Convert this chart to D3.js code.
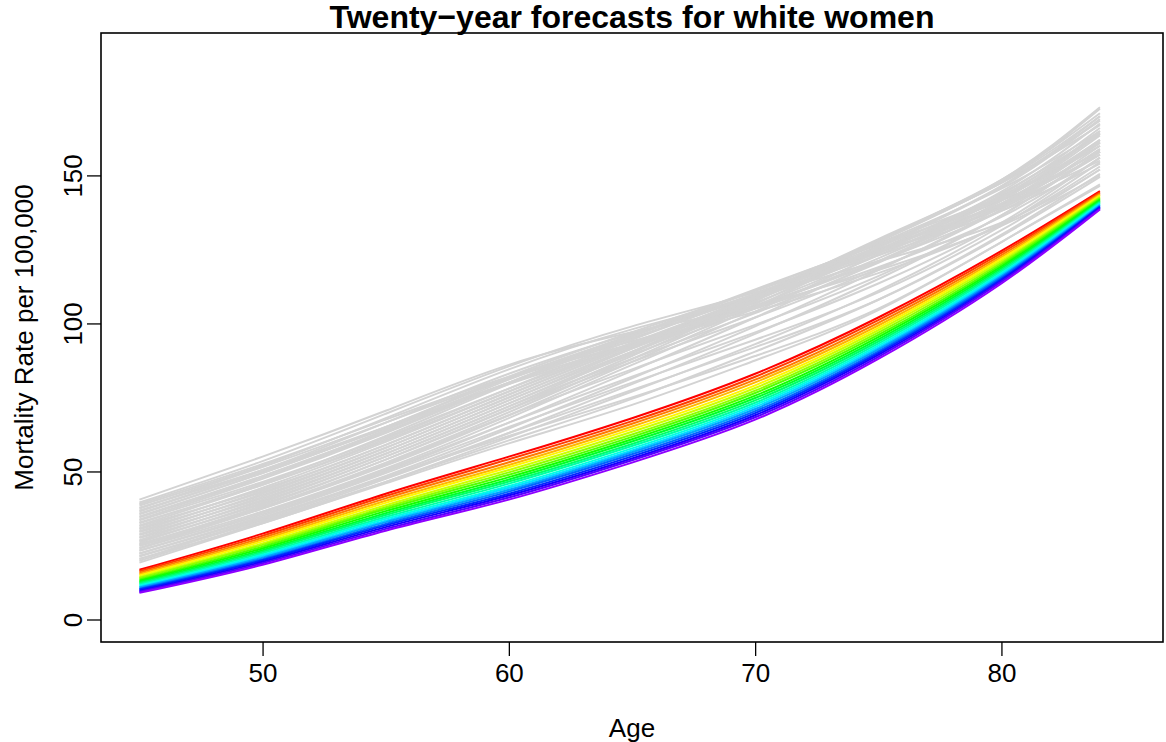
<!DOCTYPE html>
<html>
<head>
<meta charset="utf-8">
<script src="https://cdn.jsdelivr.net/npm/d3@7"></script>
<style>
  html, body { margin: 0; padding: 0; background: #fff; }
  svg { display: block; font-family: "Liberation Sans", Arial, Helvetica, sans-serif; }
</style>
</head>
<body>
<svg id="chart" width="1166" height="742"></svg>
<script>
// ---------------- DATA ----------------
const titleText = "Twenty\u2212year forecasts for white women";
const xLabel = "Age";
const yLabel = "Mortality Rate per 100,000";
const ages = [45, 50, 55, 60, 65, 70, 75, 80, 84];
const xTicks = [50, 60, 70, 80];
const yTicks = [0, 50, 100, 150];

// observed (historical) curves, earliest year first; values at `ages`
const historical = [
  [40.5, 55, 70.5, 86, 97, 106, 118, 133, 150],
  [38.5, 52, 68, 84.5, 98, 109, 121, 134, 152],
  [39.5, 53.5, 69.5, 85.5, 99, 110.5, 124, 139, 157],
  [37.5, 51.5, 66.5, 81.5, 93, 104, 117, 133.5, 153],
  [39, 52.5, 67.5, 82, 94, 106, 121, 138, 158],
  [36.5, 50.5, 66.5, 83, 96.5, 109, 123, 138, 154],
  [37.8, 50.5, 65, 80, 93, 105, 119, 136, 156],
  [35.5, 49.5, 65, 81.5, 96, 110, 125, 140.5, 157],
  [36.8, 50, 64.5, 79.5, 92.5, 105.5, 121, 140, 161],
  [34.5, 48, 63.5, 80, 95, 109.5, 124, 139.5, 159],
  [35.8, 49.5, 65, 82, 97, 111, 125, 140, 155],
  [33.5, 46.5, 61.5, 78, 93, 108, 125, 144, 164],
  [34.8, 48.5, 64, 81, 96, 110, 124, 140.5, 158.5],
  [32.8, 45.5, 60.5, 77, 93, 109.5, 127, 145.5, 165],
  [33.8, 47.5, 63, 80, 96, 111.5, 126.5, 141.5, 158],
  [31.5, 44, 59, 76, 92.5, 109.5, 128, 147.5, 167],
  [32.5, 46, 62, 79.5, 95.5, 111, 127, 143, 161],
  [30.5, 43, 58, 75, 92, 109.5, 128, 147.5, 168.5],
  [31.8, 45.5, 61, 78, 94.5, 110, 126, 142.5, 160],
  [29.5, 42, 57, 74, 91.5, 109, 128.5, 148, 170],
  [30.8, 44.5, 60, 77, 93.5, 109, 125, 142, 162],
  [28.5, 41, 56, 73, 90.5, 108.5, 128, 148.5, 171],
  [29.8, 43.5, 59, 76, 92.5, 108, 124.5, 143, 164],
  [27.5, 40, 55, 72, 90, 108, 127.5, 148, 172.5],
  [28.8, 42.5, 58, 75, 91.5, 107, 124, 143.5, 166],
  [26.5, 39, 54, 71, 89, 107.5, 127.5, 148.5, 173],
  [27.8, 41.5, 57, 74, 90.5, 106, 123, 142.5, 165],
  [25.5, 38, 53, 70, 88, 106.5, 126, 146.5, 170],
  [26.8, 40.5, 56, 73, 89.5, 105, 122, 141.5, 163.5],
  [24.8, 37.5, 52, 69, 87, 105.5, 125.5, 146, 169],
  [26, 39.5, 55, 72, 88, 103.5, 120.5, 140.5, 162],
  [24, 36.5, 51, 68, 86, 104, 123.5, 144.5, 167.5],
  [25.2, 38.5, 54, 71, 87, 102, 118.5, 138.5, 160],
  [23.2, 35.5, 50, 66.5, 84, 102, 121, 141.5, 164.5],
  [24.2, 37.5, 52.5, 69, 84.5, 99.5, 116, 136.5, 158],
  [22.3, 34.5, 48.5, 64.5, 81.5, 99, 118, 139.5, 161.5],
  [23.3, 36, 50.5, 66.5, 82, 97, 113.5, 134, 156],
  [21.5, 33.5, 47.5, 63, 79.5, 96.5, 115, 136.5, 158],
  [22.3, 35, 49.5, 65, 80, 94.5, 110.5, 131.5, 152],
  [20.5, 32.5, 46.5, 61.5, 77, 93, 111, 133, 154.5],
  [21.3, 34, 48, 63, 77.5, 92, 108, 129.5, 149.5],
  [19.8, 33, 46.5, 60.5, 74.5, 90.5, 108, 130, 150.5],
  [20.3, 34, 48, 62, 75, 89, 105, 127.5, 147],
  [19.2, 32.5, 46, 59.5, 72.5, 87.5, 104.5, 127.5, 146.5]
];

// twenty forecast curves, first forecast year first; values at `ages`
const forecasts = [
  [16.8, 29.0, 42.5, 55.0, 68.0, 83.0, 102.0, 124.5, 144.7],
  [16.3, 28.3, 41.7, 54.1, 67.0, 82.0, 101.1, 123.8, 144.3],
  [15.8, 27.6, 40.9, 53.1, 66.1, 81.0, 100.2, 123.1, 143.9],
  [15.3, 27.0, 40.1, 52.2, 65.2, 80.1, 99.3, 122.4, 143.5],
  [14.9, 26.4, 39.4, 51.4, 64.3, 79.1, 98.5, 121.8, 143.2],
  [14.4, 25.7, 38.6, 50.5, 63.4, 78.2, 97.7, 121.1, 142.8],
  [14.0, 25.2, 37.9, 49.7, 62.5, 77.3, 96.9, 120.5, 142.4],
  [13.5, 24.6, 37.3, 48.9, 61.7, 76.5, 96.1, 119.9, 142.1],
  [13.1, 24.0, 36.6, 48.1, 60.9, 75.6, 95.4, 119.3, 141.8],
  [12.7, 23.4, 35.9, 47.3, 60.1, 74.8, 94.6, 118.7, 141.4],
  [12.3, 22.9, 35.3, 46.6, 59.3, 74.0, 93.9, 118.1, 141.1],
  [11.9, 22.4, 34.6, 45.9, 58.6, 73.2, 93.2, 117.6, 140.8],
  [11.5, 21.9, 34.0, 45.1, 57.8, 72.5, 92.5, 117.0, 140.5],
  [11.1, 21.4, 33.4, 44.5, 57.1, 71.8, 91.8, 116.5, 140.2],
  [10.8, 20.9, 32.9, 43.8, 56.5, 71.1, 91.2, 116.0, 139.9],
  [10.4, 20.4, 32.3, 43.2, 55.8, 70.4, 90.6, 115.5, 139.6],
  [10.1, 20.0, 31.8, 42.5, 55.1, 69.7, 90.0, 115.0, 139.4],
  [9.7, 19.5, 31.2, 41.9, 54.4, 69.0, 89.4, 114.5, 139.1],
  [9.4, 19.0, 30.6, 41.2, 53.8, 68.3, 88.7, 114.1, 138.8],
  [9.0, 18.5, 30.0, 40.5, 53.0, 67.5, 88.0, 113.5, 138.5]
];

// ---------------- LAYOUT ----------------
const svg = d3.select("#chart");
const plot = { left: 101, right: 1163, top: 33, bottom: 642 };

const x = d3.scaleLinear().domain([43.44, 86.56]).range([plot.left, plot.right]);
const y = d3.scaleLinear().domain([-7.6, 198.1]).range([plot.bottom, plot.top]);

const line = d3.line()
  .x((d, i) => x(ages[i]))
  .y(d => y(d))
  .curve(d3.curveNatural);

// historical grey curves
svg.append("g").selectAll("path")
  .data(historical)
  .join("path")
  .attr("d", line)
  .attr("fill", "none")
  .attr("stroke", "#d3d3d3")
  .attr("stroke-width", 2);

// forecast rainbow curves
const nCol = forecasts.length * 1.25;
svg.append("g").selectAll("path")
  .data(forecasts)
  .join("path")
  .attr("d", line)
  .attr("fill", "none")
  .attr("stroke", (d, i) => d3.hsl(i / nCol * 360, 1, 0.5).formatHex())
  .attr("stroke-width", 2);

// plot frame
svg.append("rect")
  .attr("x", plot.left).attr("y", plot.top)
  .attr("width", plot.right - plot.left).attr("height", plot.bottom - plot.top)
  .attr("fill", "none").attr("stroke", "#000").attr("stroke-width", 1.6);

// x axis
const gx = svg.append("g")
  .attr("transform", `translate(0,${plot.bottom})`)
  .call(d3.axisBottom(x).tickValues(xTicks).tickSize(14).tickPadding(8).tickFormat(d3.format("d")));
gx.select(".domain").remove();
gx.selectAll(".tick line").attr("stroke", "#000").attr("stroke-width", 1.3);
gx.selectAll(".tick text").attr("font-size", 26).attr("fill", "#000")
  .attr("font-family", "'Liberation Sans', Arial, sans-serif");

// y axis
const gy = svg.append("g")
  .attr("transform", `translate(${plot.left},0)`)
  .call(d3.axisLeft(y).tickValues(yTicks).tickSize(14).tickFormat(d3.format("d")));
gy.select(".domain").remove();
gy.selectAll(".tick line").attr("stroke", "#000").attr("stroke-width", 1.3);
gy.selectAll(".tick text")
  .attr("font-size", 26).attr("fill", "#000")
  .attr("font-family", "'Liberation Sans', Arial, sans-serif")
  .attr("transform", "rotate(-90)")
  .attr("x", 0).attr("y", -19).attr("dy", 0)
  .attr("text-anchor", "middle");

// titles
svg.append("text")
  .attr("x", (plot.left + plot.right) / 2).attr("y", 28)
  .attr("text-anchor", "middle")
  .attr("font-size", 32).attr("font-weight", "bold")
  .text(titleText);

svg.append("text")
  .attr("x", (plot.left + plot.right) / 2).attr("y", 737)
  .attr("text-anchor", "middle")
  .attr("font-size", 26)
  .text(xLabel);

svg.append("text")
  .attr("transform", `translate(33,${(plot.top + plot.bottom) / 2}) rotate(-90)`)
  .attr("text-anchor", "middle")
  .attr("font-size", 26)
  .text(yLabel);
</script>
</body>
</html>
